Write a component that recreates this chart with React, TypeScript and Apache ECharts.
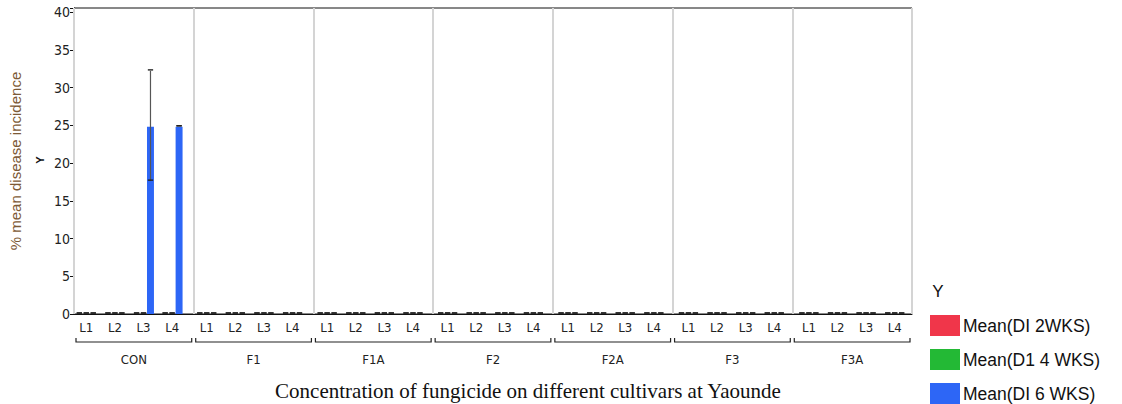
import React, { useEffect, useRef } from "react";
import * as echarts from "echarts";

const groups = ["CON", "F1", "F1A", "F2", "F2A", "F3", "F3A"];
const levels = ["L1", "L2", "L3", "L4"];
const seriesNames = ["Mean(DI 2WKS)", "Mean(D1 4 WKS)", "Mean(DI 6 WKS)"];
const seriesColors = ["#f0364a", "#23b935", "#2d66f6"];

// 28 values: CON L1..L4, F1 L1..L4, ... F3A L1..L4
const di2wks = [
  0, 0, 0, 0, 0, 0, 0, 0, 0, 0, 0, 0, 0, 0, 0, 0, 0, 0, 0, 0, 0, 0, 0, 0, 0, 0, 0, 0,
];
const di4wks = [
  0, 0, 0, 0, 0, 0, 0, 0, 0, 0, 0, 0, 0, 0, 0, 0, 0, 0, 0, 0, 0, 0, 0, 0, 0, 0, 0, 0,
];
const di6wks = [
  0, 0, 24.8, 24.8, 0, 0, 0, 0, 0, 0, 0, 0, 0, 0, 0, 0, 0, 0, 0, 0, 0, 0, 0, 0, 0, 0, 0, 0,
];
// error bar lower / upper ends
const di2Low = di2wks;
const di2High = di2wks;
const di4Low = di4wks;
const di4High = di4wks;
const di6Low = [
  0, 0, 17.6, 24.8, 0, 0, 0, 0, 0, 0, 0, 0, 0, 0, 0, 0, 0, 0, 0, 0, 0, 0, 0, 0, 0, 0, 0, 0,
];
const di6High = [
  0, 0, 32.2, 24.8, 0, 0, 0, 0, 0, 0, 0, 0, 0, 0, 0, 0, 0, 0, 0, 0, 0, 0, 0, 0, 0, 0, 0, 0,
];
const yTicks = [0, 5, 10, 15, 20, 25, 30, 35, 40];

const narrow = "'Liberation Sans Narrow', 'DejaVu Sans Condensed', 'Arial Narrow', sans-serif";
const sans = "'Liberation Sans', Arial, sans-serif";

export default function App() {
  const ref = useRef<HTMLDivElement>(null);
  useEffect(() => {
    document.body.style.margin = "0";
    const chart = echarts.init(ref.current!, null, { renderer: "svg" });
    const values = [di2wks, di4wks, di6wks];
    const lows = [di2Low, di4Low, di6Low];
    const highs = [di2High, di4High, di6High];

    const plotLeft = 69;
    const plotTop = 8;
    const plotW = 843;
    const plotH = 306;
    const groupW = plotW / groups.length;
    const pad = 3;
    const yMax = 40.53;
    const gapFrac = 0.27;

    const grids: any[] = [
      { left: plotLeft, top: plotTop, width: plotW, height: plotH, show: true, borderColor: "#111", borderWidth: 1 },
    ];
    const xAxes: any[] = [
      {
        type: "category",
        gridIndex: 0,
        data: groups,
        position: "bottom",
        axisLine: { show: true, lineStyle: { color: "#111", width: 1 } },
        axisTick: { show: false },
        axisLabel: { interval: 0, margin: 39, fontSize: 13, color: "#222", fontFamily: narrow },
        splitLine: { show: true, interval: 0, lineStyle: { color: "#d4d4d4", width: 2 } },
        z: 3,
      },
    ];
    const yAxes: any[] = [
      {
        type: "value",
        gridIndex: 0,
        min: 0,
        max: yMax,
        interval: 5,
        name: "% mean disease incidence",
        nameLocation: "middle",
        nameGap: 51,
        nameTextStyle: { fontSize: 15, color: "#7d5a36", fontFamily: sans },
        axisLine: { show: true, lineStyle: { color: "#111", width: 1 } },
        axisTick: { show: true, length: 4, lineStyle: { color: "#111" } },
        axisLabel: {
          margin: 4,
          fontSize: 14,
          color: "#222",
          fontFamily: narrow,
          formatter: (v: number) => (yTicks.indexOf(v) >= 0 ? String(v) : ""),
        },
        splitLine: { show: false },
      },
    ];
    const series: any[] = [];

    groups.forEach((g, gi) => {
      const idx = gi + 1;
      grids.push({
        left: plotLeft + gi * groupW + pad,
        top: plotTop,
        width: groupW - 2 * pad,
        height: plotH,
        show: false,
      });
      xAxes.push({
        type: "category",
        gridIndex: idx,
        data: levels,
        axisLine: { show: false },
        axisTick: { show: false },
        axisLabel: { interval: 0, margin: 7, fontSize: 13, color: "#222", fontFamily: narrow },
        splitLine: { show: false },
      });
      yAxes.push({
        type: "value",
        gridIndex: idx,
        min: 0,
        max: yMax,
        interval: 5,
        show: false,
        splitLine: { show: false },
      });
      values.forEach((v, k) => {
        const start = gi * levels.length;
        const vals = v.slice(start, start + levels.length);
        series.push({
          type: "bar",
          name: seriesNames[k],
          data: vals,
          xAxisIndex: idx,
          yAxisIndex: idx,
          barGap: "0%",
          barCategoryGap: gapFrac * 100 + "%",
          itemStyle: { color: seriesColors[k], borderWidth: 0 },
          z: 2,
        });
        series.push({
          type: "custom",
          name: "err-" + g + "-" + k,
          xAxisIndex: idx,
          yAxisIndex: idx,
          z: 5,
          clip: false,
          data: vals.map((m, i) => [i, m, lows[k][start + i], highs[k][start + i]]),
          encode: { x: 0, y: 1 },
          renderItem: (params: any, api: any) => {
            const i = api.value(0);
            const band = api.size([1, 0])[0];
            const bw = (band * (1 - gapFrac)) / 3;
            const cx = api.coord([i, 0])[0] + (k - 1) * bw;
            const yLo = api.coord([i, api.value(2)])[1];
            const yHi = api.coord([i, api.value(3)])[1];
            const half = bw * 0.38;
            const children: any[] = [];
            if (Math.abs(yHi - yLo) > 0.5) {
              children.push({
                type: "line",
                shape: { x1: cx, y1: yLo, x2: cx, y2: yHi },
                style: { stroke: "#555", lineWidth: 1.2 },
              });
            }
            children.push({
              type: "line",
              shape: { x1: cx - half, y1: yLo - 1, x2: cx + half, y2: yLo - 1 },
              style: { stroke: "#222", lineWidth: 1.4 },
            });
            children.push({
              type: "line",
              shape: { x1: cx - half, y1: yHi - 1, x2: cx + half, y2: yHi - 1 },
              style: { stroke: "#222", lineWidth: 1.4 },
            });
            return { type: "group", children };
          },
        });
      });
    });

    series.push({
      type: "custom",
      name: "brackets",
      xAxisIndex: 0,
      yAxisIndex: 0,
      clip: false,
      z: 5,
      data: groups.map((g, i) => [i, 0]),
      encode: { x: 0, y: 1 },
      renderItem: (params: any, api: any) => {
        const i = api.value(0);
        const band = api.size([1, 0])[0];
        const c = api.coord([i, 0]);
        const x0 = c[0] - band / 2 + 2;
        const x1 = c[0] + band / 2 - 2;
        const y = c[1] + 28;
        return {
          type: "polyline",
          shape: { points: [[x0, y - 4], [x0, y], [x1, y], [x1, y - 4]] },
          style: { stroke: "#222", lineWidth: 1.2, fill: "none" },
        };
      },
    });

    chart.setOption({
      animation: false,
      grid: grids,
      legend: {
        data: seriesNames,
        orient: "vertical",
        left: 930,
        top: 315,
        height: 130,
        itemWidth: 30,
        itemHeight: 21,
        itemGap: 13,
        padding: 0,
        icon: "rect",
        textStyle: { fontSize: 17.5, color: "#111", fontFamily: sans, padding: [0, 0, 0, -2] },
      },
      xAxis: xAxes,
      yAxis: yAxes,
      graphic: [
        {
          type: "text",
          x: 40,
          y: 160,
          rotation: Math.PI / 2,
          style: { text: "Y", fontSize: 11, fontWeight: "bold", fill: "#111", align: "center", verticalAlign: "middle", fontFamily: sans },
        },
        {
          type: "text",
          x: 528,
          y: 391,
          style: {
            text: "Concentration of fungicide on different cultivars at Yaounde",
            fontSize: 21,
            fill: "#111",
            align: "center",
            verticalAlign: "middle",
            fontFamily: "'Liberation Serif', 'Times New Roman', serif",
          },
        },
        {
          type: "text",
          x: 938,
          y: 291,
          style: { text: "Y", fontSize: 17, fill: "#111", align: "center", verticalAlign: "middle", fontFamily: sans },
        },
      ],
      series,
    });
    return () => chart.dispose();
  }, []);
  return <div ref={ref} style={{ width: 1122, height: 404 }} />;
}
